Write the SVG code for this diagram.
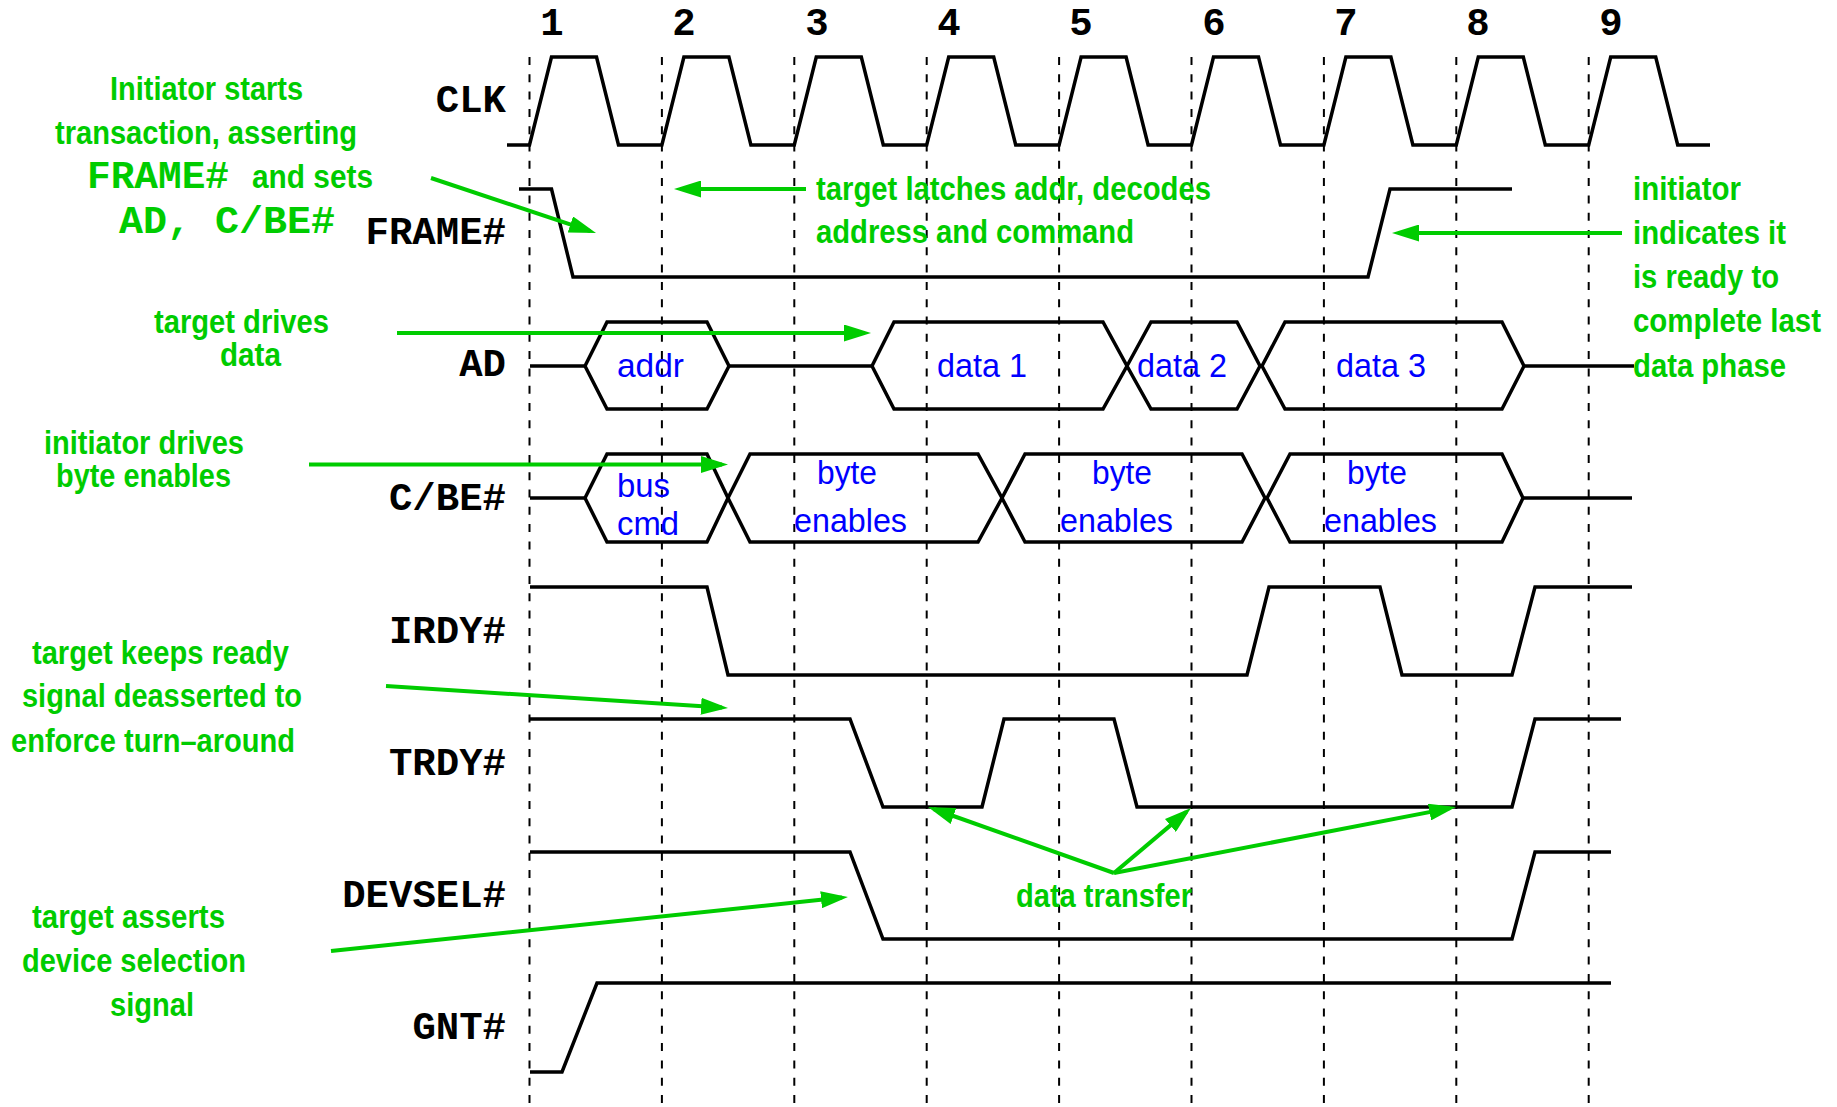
<svg xmlns="http://www.w3.org/2000/svg" width="1837" height="1107" viewBox="0 0 1837 1107">
<defs>
<style>
.wave{fill:none;stroke:#000;stroke-width:3.5;stroke-linejoin:miter}
.grid{stroke:#000;stroke-width:2;stroke-dasharray:8 9.3}
.arr{fill:none;stroke:#00cc00;stroke-width:4;marker-end:url(#ah)}
.sig{font-family:"Courier New","Liberation Mono",monospace;font-weight:bold;font-size:39px;fill:#000;text-anchor:end}
.num{font-family:"Courier New","Liberation Mono",monospace;font-weight:bold;font-size:39px;fill:#000;text-anchor:middle}
.g{font-family:"Liberation Sans",Arial,sans-serif;font-weight:bold;font-size:33px;fill:#00cc00}
.gm{font-family:"Courier New","Liberation Mono",monospace;font-weight:bold;font-size:38px;fill:#00cc00}
.b{font-family:"Liberation Sans",Arial,sans-serif;font-size:33px;fill:#0000ff}
</style>
<marker id="ah" viewBox="0 0 27 17" refX="21" refY="8.5" markerWidth="27" markerHeight="17" markerUnits="userSpaceOnUse" orient="auto">
<path d="M0,0 L27,8.5 L0,17 z" fill="#00cc00"/>
</marker>
</defs>
<rect width="1837" height="1107" fill="#fff"/>

<g id="grid">
<line class="grid" x1="529.5" y1="57" x2="529.5" y2="1107"/>
<line class="grid" x1="661.9" y1="57" x2="661.9" y2="1107"/>
<line class="grid" x1="794.3" y1="57" x2="794.3" y2="1107"/>
<line class="grid" x1="926.7" y1="57" x2="926.7" y2="1107"/>
<line class="grid" x1="1059.1" y1="57" x2="1059.1" y2="1107"/>
<line class="grid" x1="1191.5" y1="57" x2="1191.5" y2="1107"/>
<line class="grid" x1="1323.9" y1="57" x2="1323.9" y2="1107"/>
<line class="grid" x1="1456.3" y1="57" x2="1456.3" y2="1107"/>
<line class="grid" x1="1588.7" y1="57" x2="1588.7" y2="1107"/>
</g>

<g id="cycle-numbers">
<text class="num" x="552" y="35">1</text>
<text class="num" x="684" y="35">2</text>
<text class="num" x="817" y="35">3</text>
<text class="num" x="949" y="35">4</text>
<text class="num" x="1081" y="35">5</text>
<text class="num" x="1214" y="35">6</text>
<text class="num" x="1346" y="35">7</text>
<text class="num" x="1478" y="35">8</text>
<text class="num" x="1611" y="35">9</text>
</g>

<g id="CLK">
<text class="sig" x="506" y="112">CLK</text>
<path class="wave" d="M507,145 L529.5,145 L551.5,57 L596.5,57 L618.5,145 L661.9,145 L683.9,57 L728.9,57 L750.9,145 L794.3,145 L816.3,57 L861.3,57 L883.3,145 L926.7,145 L948.7,57 L993.7,57 L1015.7,145 L1059.1,145 L1081.1,57 L1126.1,57 L1148.1,145 L1191.5,145 L1213.5,57 L1258.5,57 L1280.5,145 L1323.9,145 L1345.9,57 L1390.9,57 L1412.9,145 L1456.3,145 L1478.3,57 L1523.3,57 L1545.3,145 L1588.7,145 L1610.7,57 L1655.7,57 L1677.7,145 L1710,145"/>
</g>

<g id="FRAME">
<text class="sig" x="506" y="244">FRAME#</text>
<path class="wave" d="M519,189 L551.5,189 L573,277 L1368,277 L1390,189 L1512,189"/>
</g>

<g id="AD">
<text class="sig" x="506" y="376">AD</text>
<path class="wave" d="M530,366 L585,366 M729,366 L872,366 M1524,366 L1634,366"/>
<polygon class="wave" points="585,366 607,322 707,322 729,366 707,409 607,409"/>
<polygon class="wave" points="872,366 894,322 1103,322 1127,366 1103,409 894,409"/>
<polygon class="wave" points="1127,366 1151,322 1237,322 1260,366 1237,409 1151,409"/>
<polygon class="wave" points="1262,366 1285,322 1502,322 1524,366 1502,409 1285,409"/>
<text class="b" x="617" y="377" textLength="67" lengthAdjust="spacingAndGlyphs">addr</text>
<text class="b" x="937" y="377" textLength="90" lengthAdjust="spacingAndGlyphs">data 1</text>
<text class="b" x="1137" y="377" textLength="90" lengthAdjust="spacingAndGlyphs">data 2</text>
<text class="b" x="1336" y="377" textLength="90" lengthAdjust="spacingAndGlyphs">data 3</text>
</g>

<g id="CBE">
<text class="sig" x="506" y="510">C/BE#</text>
<path class="wave" d="M530,498 L585,498 M1523,498 L1632,498"/>
<polygon class="wave" points="585,498 607,454 707,454 728,498 707,542 607,542"/>
<polygon class="wave" points="728,498 750,454 978,454 1002,498 978,542 750,542"/>
<polygon class="wave" points="1002,498 1025,454 1242,454 1265,498 1242,542 1025,542"/>
<polygon class="wave" points="1267,498 1290,454 1502,454 1523,498 1502,542 1290,542"/>
<text class="b" x="617" y="497" textLength="53" lengthAdjust="spacingAndGlyphs">bus</text>
<text class="b" x="617" y="535" textLength="62" lengthAdjust="spacingAndGlyphs">cmd</text>
<text class="b" x="817" y="484" textLength="60" lengthAdjust="spacingAndGlyphs">byte</text>
<text class="b" x="794" y="532" textLength="113" lengthAdjust="spacingAndGlyphs">enables</text>
<text class="b" x="1092" y="484" textLength="60" lengthAdjust="spacingAndGlyphs">byte</text>
<text class="b" x="1060" y="532" textLength="113" lengthAdjust="spacingAndGlyphs">enables</text>
<text class="b" x="1347" y="484" textLength="60" lengthAdjust="spacingAndGlyphs">byte</text>
<text class="b" x="1324" y="532" textLength="113" lengthAdjust="spacingAndGlyphs">enables</text>
</g>

<g id="IRDY">
<text class="sig" x="506" y="643">IRDY#</text>
<path class="wave" d="M530,587 L707,587 L728,675 L1247,675 L1269,587 L1380,587 L1402,675 L1512,675 L1535,587 L1632,587"/>
</g>

<g id="TRDY">
<text class="sig" x="506" y="775">TRDY#</text>
<path class="wave" d="M530,719 L850,719 L883,807 L982,807 L1004,719 L1114,719 L1137,807 L1512,807 L1535,719 L1621,719"/>
</g>

<g id="DEVSEL">
<text class="sig" x="506" y="907">DEVSEL#</text>
<path class="wave" d="M530,852 L850,852 L883,939 L1512,939 L1535,852 L1611,852"/>
</g>

<g id="GNT">
<text class="sig" x="506" y="1039">GNT#</text>
<path class="wave" d="M530,1072 L562,1072 L597,983 L1611,983"/>
</g>

<g id="note-initiator-starts">
<text class="g" x="110" y="100" textLength="193" lengthAdjust="spacingAndGlyphs">Initiator starts</text>
<text class="g" x="55" y="144" textLength="302" lengthAdjust="spacingAndGlyphs">transaction, asserting</text>
<text class="gm" x="87" y="188" textLength="142" lengthAdjust="spacingAndGlyphs">FRAME#</text>
<text class="g" x="252" y="188" textLength="121" lengthAdjust="spacingAndGlyphs">and sets</text>
<text class="gm" x="119" y="233" textLength="216" lengthAdjust="spacingAndGlyphs">AD, C/BE#</text>
</g>

<g id="note-target-latches">
<text class="g" x="816" y="200" textLength="395" lengthAdjust="spacingAndGlyphs">target latches addr, decodes</text>
<text class="g" x="816" y="243" textLength="318" lengthAdjust="spacingAndGlyphs">address and command</text>
</g>

<g id="note-initiator-ready">
<text class="g" x="1633" y="200" textLength="108" lengthAdjust="spacingAndGlyphs">initiator</text>
<text class="g" x="1633" y="244" textLength="153" lengthAdjust="spacingAndGlyphs">indicates it</text>
<text class="g" x="1633" y="288" textLength="146" lengthAdjust="spacingAndGlyphs">is ready to</text>
<text class="g" x="1633" y="332" textLength="188" lengthAdjust="spacingAndGlyphs">complete last</text>
<text class="g" x="1633" y="377" textLength="153" lengthAdjust="spacingAndGlyphs">data phase</text>
</g>

<g id="note-target-drives">
<text class="g" x="154" y="333" textLength="175" lengthAdjust="spacingAndGlyphs">target drives</text>
<text class="g" x="220" y="366" textLength="61" lengthAdjust="spacingAndGlyphs">data</text>
</g>

<g id="note-initiator-drives">
<text class="g" x="44" y="454" textLength="200" lengthAdjust="spacingAndGlyphs">initiator drives</text>
<text class="g" x="56" y="487" textLength="175" lengthAdjust="spacingAndGlyphs">byte enables</text>
</g>

<g id="note-target-keeps">
<text class="g" x="32" y="664" textLength="257" lengthAdjust="spacingAndGlyphs">target keeps ready</text>
<text class="g" x="22" y="707" textLength="280" lengthAdjust="spacingAndGlyphs">signal deasserted to</text>
<text class="g" x="11" y="752" textLength="284" lengthAdjust="spacingAndGlyphs">enforce turn–around</text>
</g>

<g id="note-target-asserts">
<text class="g" x="32" y="928" textLength="193" lengthAdjust="spacingAndGlyphs">target asserts</text>
<text class="g" x="22" y="972" textLength="224" lengthAdjust="spacingAndGlyphs">device selection</text>
<text class="g" x="110" y="1016" textLength="84" lengthAdjust="spacingAndGlyphs">signal</text>
</g>

<g id="note-data-transfer">
<text class="g" x="1016" y="907" textLength="176" lengthAdjust="spacingAndGlyphs">data transfer</text>
</g>

<g id="connectors">
<path class="arr" d="M431,178 L590.3,231.1"/>
<path class="arr" d="M806,189 L680,189"/>
<path class="arr" d="M1622,233 L1398,233"/>
<path class="arr" d="M397,333 L865,333"/>
<path class="arr" d="M309,464.5 L722,464.5"/>
<path class="arr" d="M386,686 L722,707.6"/>
<path class="arr" d="M331,951 L842,897.6"/>
<path class="arr" d="M1114,873 L933.7,809"/>
<path class="arr" d="M1114,873 L1186.4,811.9"/>
<path class="arr" d="M1114,873 L1450.1,808.1"/>
</g>
</svg>
